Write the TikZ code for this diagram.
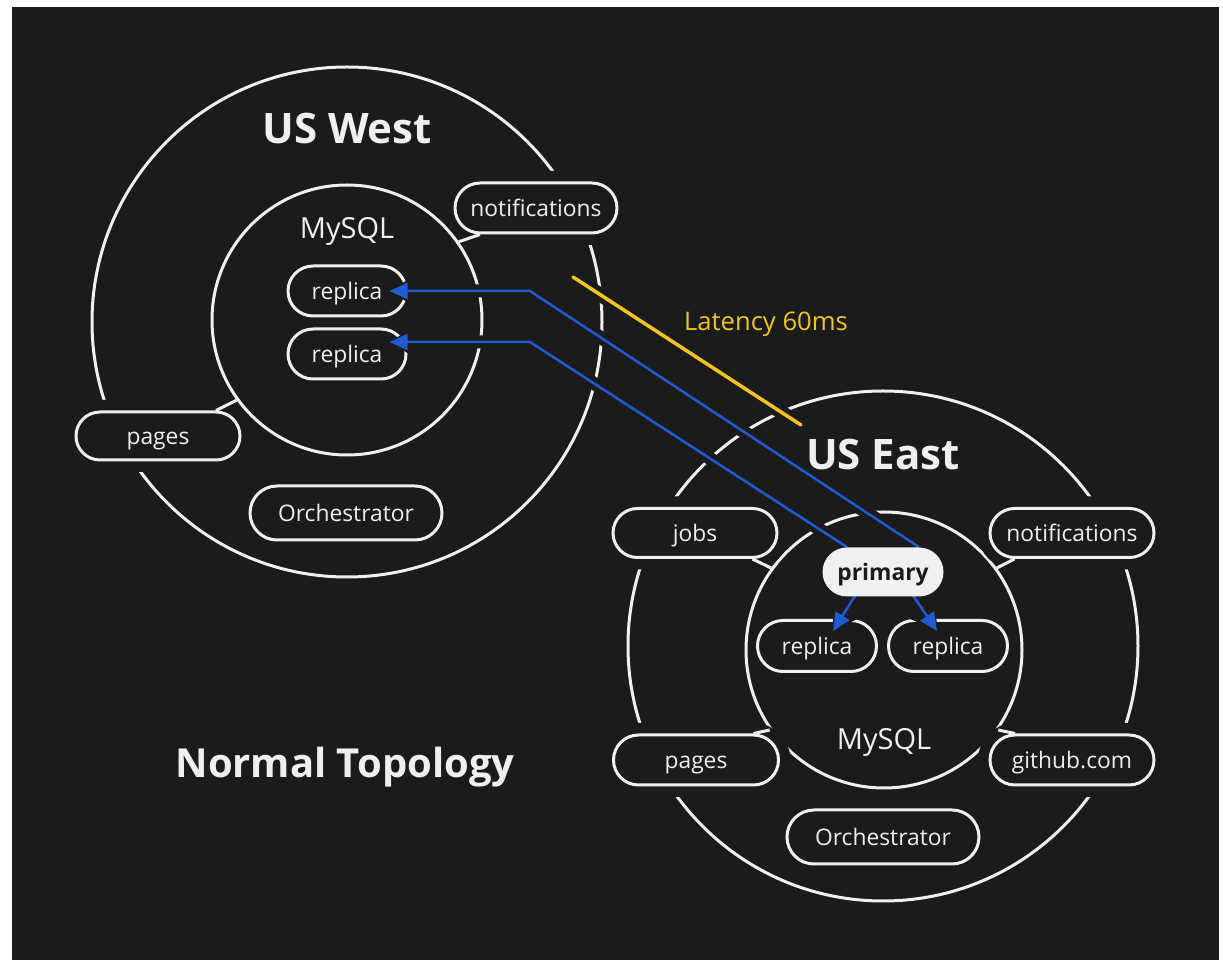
\documentclass[tikz,border=0pt]{standalone}
\usepackage{fontspec}
\setmainfont{Open Sans}
\usetikzlibrary{shapes.misc,arrows.meta}
\definecolor{bg}{HTML}{1B1B1B}
\definecolor{ink}{HTML}{EFEFEF}
\definecolor{link}{HTML}{1F5BD3}
\definecolor{lat}{HTML}{F0C31E}
\definecolor{prim}{HTML}{F0F0F0}
\begin{document}
\begin{tikzpicture}[x=0.5pt,y=-0.5pt,
  ring/.style={circle,draw=ink,line width=1.5pt,inner sep=0pt},
  svc/.style={rounded rectangle,draw=ink,fill=bg,line width=1.5pt,inner sep=0pt,
    text=ink,font=\fontsize{11.4}{14}\selectfont,text height=9pt,text depth=0pt,
    minimum width=82pt,minimum height=24.5pt},
  halo/.style={preaction={draw=bg,line width=12pt}},
  wire/.style={draw=ink,line width=1.5pt},
  sync/.style={draw=link,line width=1.25pt,-{Triangle[length=9pt,width=8pt]},
    preaction={draw=bg,line width=6.5pt,-{Triangle[length=12pt,width=14pt]}}},
  latline/.style={draw=lat,line width=1.75pt,line cap=round,
    preaction={draw=bg,line width=7pt,line cap=butt}},
  head/.style={text=ink,font=\fontsize{21}{25}\selectfont\bfseries},
  dblabel/.style={text=ink,font=\fontsize{14.5}{17}\selectfont}
]
% canvas
\fill[white] (0,0) rectangle (1223,962);
\fill[bg] (12,7) rectangle (1219,960);

% region rings
\node[ring,minimum size=255pt] (wouter) at (347,322) {};
\node[ring,minimum size=135pt] (winner) at (347,320) {};
\node[ring,minimum size=255pt] (eouter) at (883,646) {};
\node[ring,minimum size=138pt] (einner) at (884,650) {};

% US West services
\node[svc,halo,minimum height=24pt] (wpages) at (158,436) {pages};
\node[svc,halo,minimum width=81pt,minimum height=25pt] (wnotif) at (536,208) {notifications};
\node[svc,minimum width=96pt,minimum height=27pt] (worch) at (346,513) {Orchestrator};
\node[svc,minimum width=59pt,minimum height=25pt] (wrep1) at (347,291) {replica};
\node[svc,minimum width=59pt,minimum height=25pt] (wrep2) at (347,354) {replica};

% US East services
\node[svc,halo] (ejobs) at (695,533) {jobs};
\node[svc,halo] (enotif) at (1072,533) {notifications};
\node[svc,halo,minimum width=82.5pt,minimum height=25pt] (epages) at (696,760) {pages};
\node[svc,halo,minimum height=25pt] (egit) at (1072,760) {github.com};
\node[svc,minimum width=96pt,minimum height=27pt] (eorch) at (883,837) {Orchestrator};
\node[svc,minimum width=59.5pt,minimum height=25.5pt] (erep1) at (817,646) {replica};
\node[svc,minimum width=59.5pt,minimum height=25.5pt] (erep2) at (948,646) {replica};

% service attachments to the MySQL rings
\draw[wire] (wpages.north east) -- (winner.216);
\draw[wire] (wnotif.south west) -- (winner.35);
\draw[wire] (ejobs.south east) -- (einner.144);
\draw[wire] (enotif.south west) -- (einner.36);
\draw[wire] (epages.north east) -- (einner.215);
\draw[wire] (egit.north west) -- (einner.325);

% latency marker
\coordinate (lat1) at (573,277);
\coordinate (lat2) at (801,425);
\draw[latline] (lat1) -- (lat2);
\node[text=lat,font=\fontsize{12.8}{15}\selectfont] (latlabel) at (766,324) {Latency 60ms};

% primary node outline, used as the start of the replication paths
\node[rounded rectangle,inner sep=0pt,minimum width=60.5pt,minimum height=24.5pt] (primary) at (883,572) {};

% replication paths
\draw[sync] (primary.north east) -- (530,291) -- ([xshift=-9pt]wrep1.east);
\draw[sync] (primary.north west) -- (530,342) -- ([xshift=-9pt,yshift=6pt]wrep2.east);
\draw[sync] ([xshift=-12.5pt,yshift=3pt]primary.south) -- ([xshift=8pt,yshift=-6pt]erep1.north);
\draw[sync] ([xshift=13.5pt,yshift=3pt]primary.south) -- ([xshift=-5.5pt,yshift=-6pt]erep2.north);

% primary drawn over the path starts
\node[rounded rectangle,fill=prim,inner sep=0pt,minimum width=60.5pt,minimum height=24.5pt,
  text=bg,font=\fontsize{11.4}{14}\selectfont\bfseries,text height=9pt,text depth=0pt]
  (primlabel) at (primary.center) {primary};

% titles
\node[head] (westtitle) at (347,129) {US West};
\node[head] (easttitle) at (883,455) {US East};
\node[head,font=\fontsize{20}{24}\selectfont\bfseries] (topo) at (345,767) {Normal Topology};
\node[dblabel] (wdb) at (347,231) {MySQL};
\node[dblabel] (edb) at (884,742) {MySQL};
\end{tikzpicture}
\end{document}
